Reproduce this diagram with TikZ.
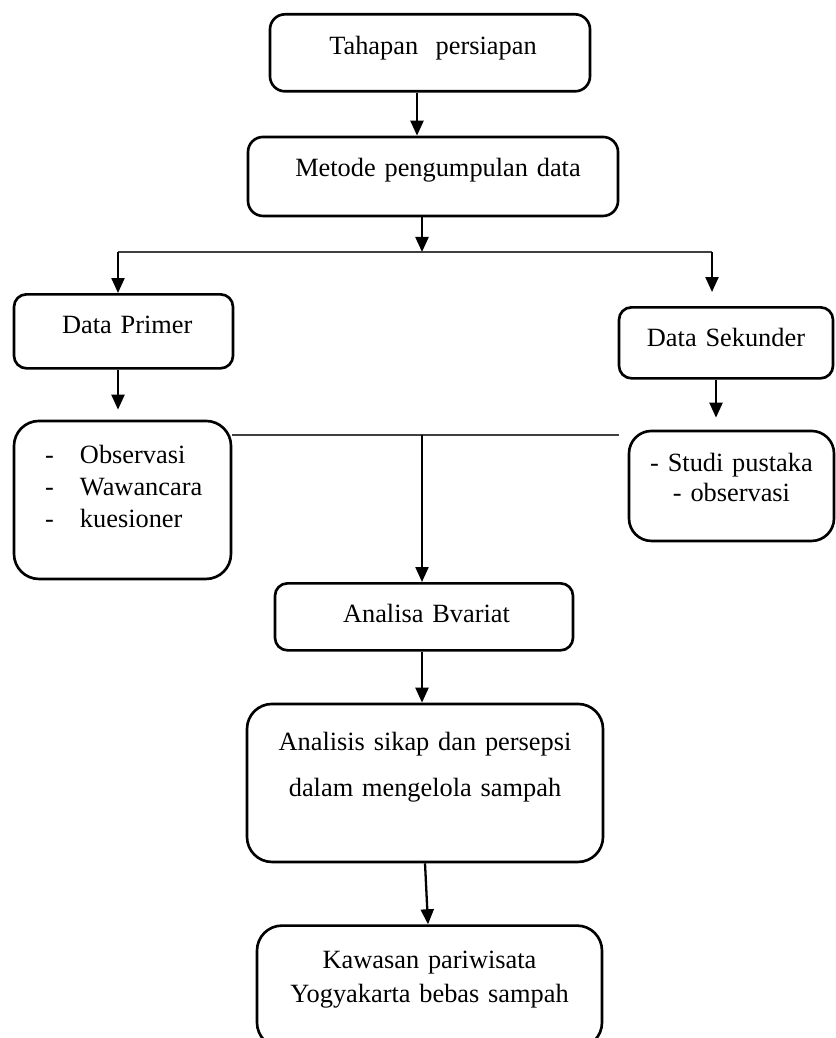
\documentclass[tikz,border=0pt]{standalone}
\usepackage{fontspec}
\setmainfont{Liberation Serif}
\usetikzlibrary{positioning, arrows.meta}

\newcommand{\butir}[1]{\makebox[0.7cm][l]{-}#1}

\begin{document}
\begin{tikzpicture}
	[kotak/.style={draw=black, line width=1.5pt, rectangle, rounded corners=0.3cm,
	               align=center, inner sep=0pt, font=\fontsize{15}{18}\selectfont},
	 panah/.style={draw=black, line width=1.3pt, -{Triangle[width=0.26cm, length=0.3cm]}},
	 garis/.style={draw=black!75, line width=0.75pt}]
	\useasboundingbox (0,0) rectangle (16.7,-20.76);
	\node[kotak, anchor=north, text width=6.4cm, text height=0.8cm, text depth=0.74cm] (a) at (8.6,-0.26) {\hspace*{0.12cm}Tahapan \ persiapan};
	\node[kotak, below=0.86cm of a, xshift=0.06cm, text width=7.4cm, text height=0.8cm, text depth=0.78cm] (b) {\hspace*{0.2cm}Metode pengumpulan data};
	\node[kotak, anchor=north, rounded corners=0.25cm, text width=4.38cm, text height=0.78cm, text depth=0.7cm] (c) at (2.47,-5.86) {\hspace*{0.15cm}Data Primer};
	\node[kotak, anchor=north, rounded corners=0.25cm, text width=4.28cm, text height=0.78cm, text depth=0.64cm] (d) at (14.52,-6.12) {Data Sekunder};
	\node[kotak, below=1cm of c, xshift=-0.02cm, rounded corners=0.5cm, align=left, inner xsep=0.62cm, text width=3.1cm,
	      text height=0.86cm, text depth=2.3cm] (e) {\butir{Observasi}\\ \butir{Wawancara}\\ \butir{kuesioner}};
	\node[kotak, below=1cm of d, xshift=0.11cm, rounded corners=0.45cm, text width=4.1cm, text height=0.82cm, text depth=1.38cm,
	      font=\fontsize{15}{17}\selectfont] (f) {- Studi pustaka\\- observasi};
	\node[kotak, anchor=north, rounded corners=0.25cm, text width=5.96cm, text height=0.78cm, text depth=0.56cm] (g) at (8.48,-11.64) {\hspace*{0.1cm}Analisa Bvariat};
	\node[kotak, below=1.02cm of g, xshift=0.02cm, rounded corners=0.5cm, text width=7.12cm, text height=0.94cm, text depth=2.22cm,
	      font=\fontsize{15}{26}\selectfont] (h) {Analisis sikap dan persepsi\\dalam mengelola sampah};
	\node[kotak, below=1.22cm of h, xshift=0.09cm, rounded corners=0.5cm, text width=6.9cm, text height=0.86cm, text depth=1.58cm,
	      font=\fontsize{15}{19.4}\selectfont] (i) {Kawasan pariwisata\\Yogyakarta bebas sampah};

	\coordinate (pisah) at (8.44,-5.04);
	\coordinate (kiri) at (2.36,-5.04);
	\coordinate (kanan) at (14.24,-5.04);
	\coordinate (gabung) at (8.44,-8.7);
	\coordinate (ujung) at (12.38,-8.7);

	\draw[panah] ([xshift=-0.26cm]a.south) -- ([xshift=-0.26cm]a.south |- b.north);
	\draw[panah] (b.south -| pisah) -- (pisah);
	\draw[garis] (kiri) -- (kanan);
	\draw[panah] (kiri) -- (kiri |- c.north);
	\draw[panah, shorten >=0.28cm] (kanan) -- (kanan |- d.north);
	\draw[panah, shorten >=0.2cm] (kiri |- c.south) -- (kiri |- e.north);
	\draw[panah, shorten >=0.24cm] ([xshift=-0.2cm]d.south) -- ([xshift=-0.2cm]d.south |- f.north);
	\draw[garis] (e.east |- gabung) -- (ujung);
	\draw[panah] (gabung) -- (gabung |- g.north);
	\draw[panah] (g.south -| gabung) -- (h.north -| gabung);
	\draw[panah] (h.south) -- ([xshift=0.06cm]h.south |- i.north);
\end{tikzpicture}
\end{document}
